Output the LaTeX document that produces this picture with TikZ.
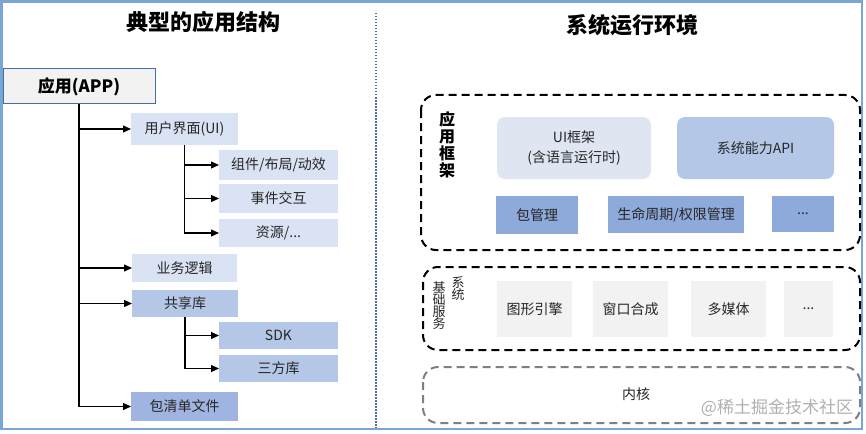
\documentclass[tikz,border=0pt]{standalone}
\usepackage{fontspec}
\setmainfont{Noto Sans CJK SC}
\usetikzlibrary{arrows.meta}
\definecolor{frameblue}{HTML}{7AA6D6}
\definecolor{divblue}{HTML}{4A72A8}
\definecolor{appedge}{HTML}{41719C}
\definecolor{lightgrey}{HTML}{F2F2F2}
\definecolor{paleblue}{HTML}{DAE3F3}
\definecolor{midblue}{HTML}{B4C7E7}
\definecolor{deepblue}{HTML}{9FB4E0}
\definecolor{rowblue}{HTML}{8EAADB}
\definecolor{uifw}{HTML}{DFE6F2}
\definecolor{kgrey}{HTML}{7F7F7F}
\definecolor{wmgrey}{HTML}{B0B0B0}
\definecolor{txt}{HTML}{262626}
\begin{document}
\begin{tikzpicture}[x=1pt,y=-1pt,
  every node/.style={inner sep=0pt,outer sep=0pt,text=txt},
  bx/.style={draw=none,font=\fontsize{14}{16}\selectfont},
  arr/.style={-{Triangle[length=8pt,width=7pt]},line width=1.2pt,black},
  dbox/.style={rounded corners=15pt,line width=2pt,dash pattern=on 8pt off 5pt},
  title/.style={font=\bfseries\fontsize{22}{24}\selectfont,text=black}]
\useasboundingbox (0,0) rectangle (866,433);
\fill[white] (0,0) rectangle (866,433);
% frame
\draw[frameblue,line width=2.5pt] (1.5,1.5) rectangle (862,429);
% divider
\draw[divblue,line width=1.5pt,dash pattern=on 1.5pt off 1.5pt] (376,13) -- (376,428);
% titles
\node[title] (t1) at (203,22) {典型的应用结构};
\node[title] (t2) at (632,25) {系统运行环境};

% left tree
\node[draw=appedge,line width=1pt,fill=lightgrey,minimum width=152pt,minimum height=35pt,
  font=\bfseries\fontsize{17}{19}\selectfont,text=black] (app) at (79,86.5) {应用(APP)};
\node[bx,fill=paleblue,minimum width=107pt,minimum height=32pt] (ui) at (184.5,129) {用户界面(UI)};
\node[bx,fill=paleblue,minimum width=119pt,minimum height=30pt] (c1) at (278.5,165) {组件/布局/动效};
\node[bx,fill=paleblue,minimum width=119pt,minimum height=29pt] (c2) at (278.5,198.5) {事件交互};
\node[bx,fill=paleblue,minimum width=119pt,minimum height=28pt] (c3) at (278.5,233) {资源/...};
\node[bx,fill=paleblue,minimum width=105pt,minimum height=28pt] (biz) at (184.5,268) {业务逻辑};
\node[bx,fill=midblue,minimum width=106pt,minimum height=27pt] (shared) at (185,303.5) {共享库};
\node[bx,fill=midblue,minimum width=119pt,minimum height=27pt] (sdk) at (278.5,335.5) {SDK};
\node[bx,fill=midblue,minimum width=119pt,minimum height=27pt] (tp) at (278.5,368.5) {三方库};
\node[bx,fill=deepblue,minimum width=107pt,minimum height=29pt] (pk) at (184.5,406.5) {包清单文件};

\draw[arr] (app.south) |- (ui.west);
\draw[arr] (app.south) |- (biz.west);
\draw[arr] (app.south) |- (shared.west);
\draw[arr] (app.south) |- (pk.west);
\draw[arr] (ui.south) |- (c1.west);
\draw[arr] (ui.south) |- (c2.west);
\draw[arr] (ui.south) |- (c3.west);
\draw[arr] (shared.south) |- (sdk.west);
\draw[arr] (shared.south) |- (tp.west);

% right: application framework
\draw[dbox,black] (421,95) rectangle (860,250);
\node[font=\bfseries\fontsize{16}{17}\selectfont,align=center,text=black] (fwl) at (447,145) {应\\用\\框\\架};
\node[bx,fill=uifw,rounded corners=8pt,minimum width=154pt,minimum height=62pt,align=center,
  font=\fontsize{14}{20}\selectfont] (uif) at (574,148) {UI框架\\(含语言运行时)};
\node[bx,fill=midblue,rounded corners=8pt,minimum width=157pt,minimum height=62pt] (api) at (755.5,148) {系统能力API};
\node[bx,fill=rowblue,minimum width=82pt,minimum height=38pt] (pm) at (537,215) {包管理};
\node[bx,fill=rowblue,minimum width=136pt,minimum height=37pt] (lc) at (676,214.5) {生命周期/权限管理};
\node[bx,fill=rowblue,minimum width=62pt,minimum height=36pt] (more1) at (803,214) {...};

% system base services
\draw[dbox,black] (423,267) rectangle (860,350);
\node[font=\fontsize{13}{12}\selectfont,align=center,text=txt] (bs1) at (439,305.5) {基\\础\\服\\务};
\node[font=\fontsize{13}{12}\selectfont,align=center,text=txt] (bs2) at (458,289) {系\\统};
\node[bx,fill=lightgrey,minimum width=75pt,minimum height=56pt] (ge) at (534.5,309) {图形引擎};
\node[bx,fill=lightgrey,minimum width=75pt,minimum height=56pt] (wc) at (630.5,309) {窗口合成};
\node[bx,fill=lightgrey,minimum width=75pt,minimum height=56pt] (mm) at (728.5,309) {多媒体};
\node[bx,fill=lightgrey,minimum width=49pt,minimum height=56pt] (more2) at (808.5,309) {...};

% kernel
\draw[dbox,kgrey] (423,367) rectangle (860,423);
\node[bx] (kn) at (636,394) {内核};
\node[font=\fontsize{17}{19}\selectfont,text=wmgrey,anchor=east] (wm) at (853,408) {@稀土掘金技术社区};
\end{tikzpicture}
\end{document}
